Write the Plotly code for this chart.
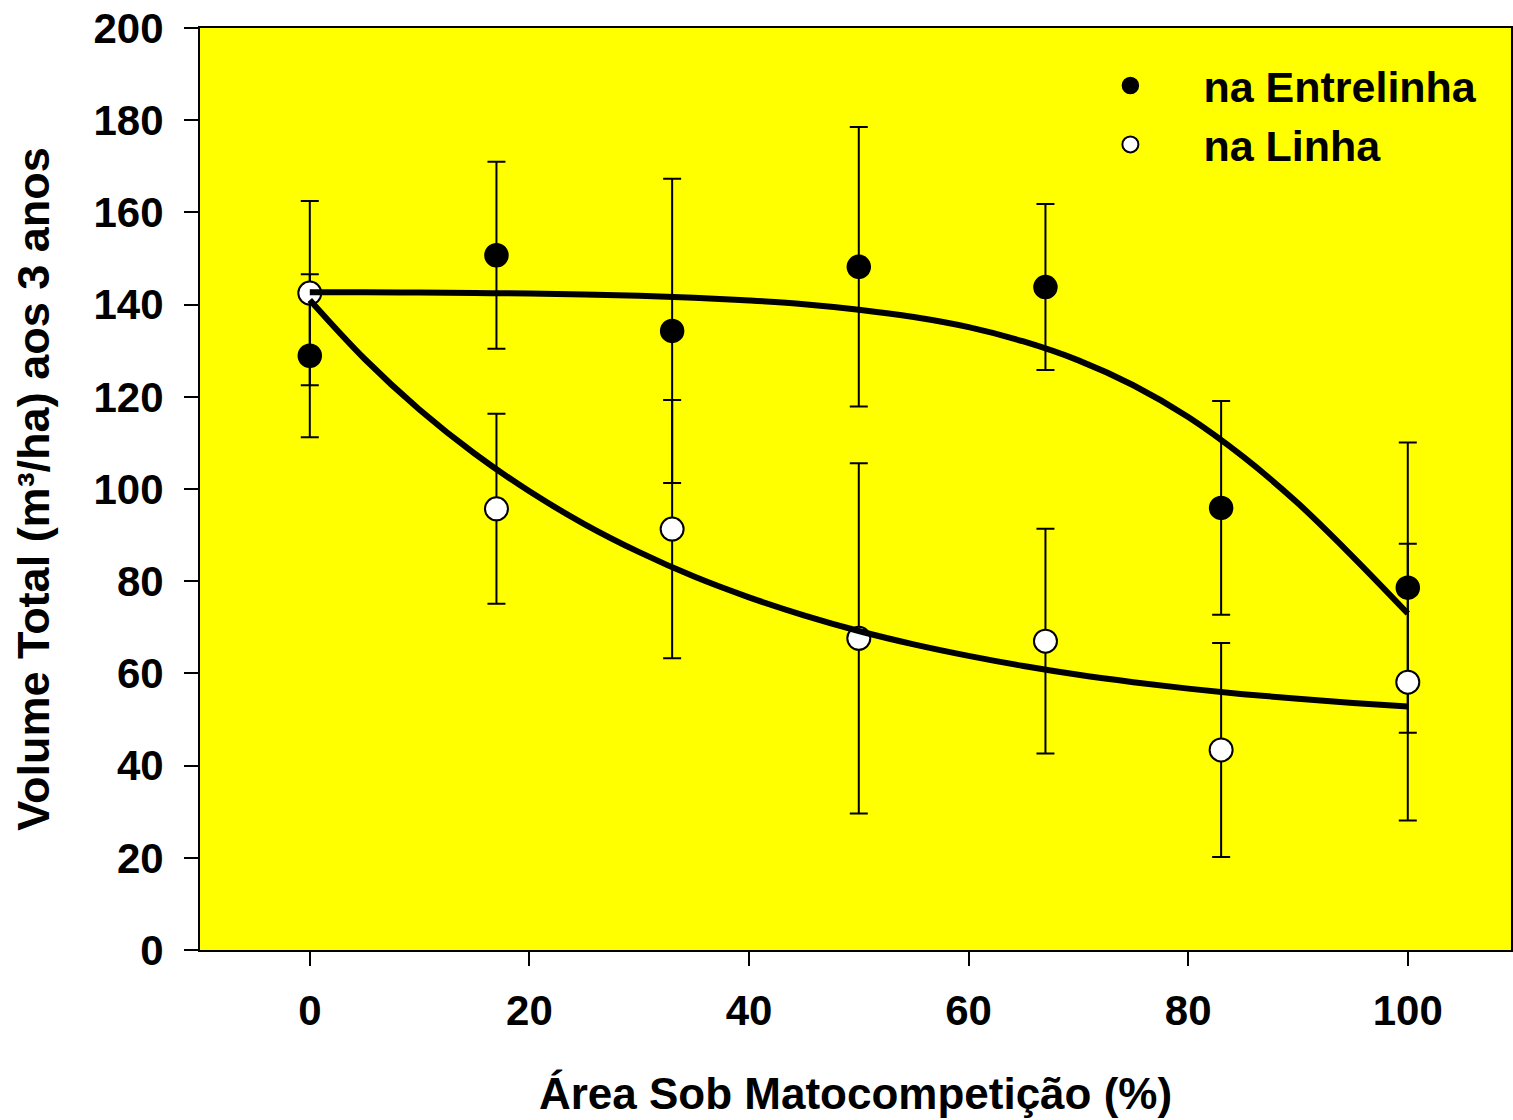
import plotly.graph_objects as go

# Data
area = [0, 17, 33, 50, 67, 83, 100]
entrelinha_vol = [128.9, 150.7, 134.3, 148.2, 143.8, 95.9, 78.6]
entrelinha_err = [17.7, 20.3, 33.0, 30.3, 18.0, 23.2, 31.5]
linha_vol = [142.5, 95.7, 91.3, 67.6, 67.0, 43.4, 58.1]
linha_err = [20.0, 20.6, 28.0, 38.0, 24.4, 23.2, 30.0]

# Fitted curves
curve_x = [0, 5, 10, 15, 20, 25, 30, 35, 40, 45, 50, 55, 60, 65, 70, 75, 80, 85, 90, 95, 100]
entrelinha_fit = [142.7, 142.7, 142.6, 142.5, 142.4, 142.2, 141.9, 141.5, 140.9, 140.1, 138.9,
                  137.3, 135.1, 132.0, 127.9, 122.5, 115.6, 107.0, 96.9, 85.3, 73.0]
linha_fit = [141.0, 128.2, 117.2, 107.7, 99.5, 92.4, 86.3, 81.0, 76.5, 72.6, 69.2,
             66.3, 63.8, 61.6, 59.7, 58.1, 56.7, 55.5, 54.5, 53.6, 52.8]

x_ticks = [0, 20, 40, 60, 80, 100]
y_ticks = [0, 20, 40, 60, 80, 100, 120, 140, 160, 180, 200]

FONT = "Liberation Sans, Arial, sans-serif"

fig = go.Figure()

fig.add_trace(go.Scatter(
    x=area, y=entrelinha_vol, mode="markers", name="na Entrelinha",
    marker=dict(size=23, color="black", line=dict(color="black", width=1.5)),
    error_y=dict(type="data", array=entrelinha_err, color="black", thickness=2, width=9),
))
fig.add_trace(go.Scatter(
    x=area, y=linha_vol, mode="markers", name="na Linha",
    marker=dict(size=23, color="white", line=dict(color="black", width=2)),
    error_y=dict(type="data", array=linha_err, color="black", thickness=2, width=9),
))
fig.add_trace(go.Scatter(
    x=curve_x, y=entrelinha_fit, mode="lines", showlegend=False, hoverinfo="skip",
    line=dict(color="black", width=6, shape="spline"),
))
fig.add_trace(go.Scatter(
    x=curve_x, y=linha_fit, mode="lines", showlegend=False, hoverinfo="skip",
    line=dict(color="black", width=6, shape="spline"),
))

fig.update_layout(
    width=1513, height=1120,
    margin=dict(l=200, r=0, t=28, b=170),
    paper_bgcolor="white",
    plot_bgcolor="#FFFF00",
    font=dict(family=FONT, color="black", size=42, weight="bold"),
    legend=dict(
        x=0.654, y=0.975, xanchor="left", yanchor="top",
        bgcolor="rgba(0,0,0,0)", borderwidth=0,
        font=dict(family=FONT, size=43, color="black", weight="bold"),
        itemwidth=136, tracegroupgap=0,
    ),
)

fig.update_xaxes(
    range=[-10, 109.4], tickvals=x_ticks, ticktext=[str(v) for v in x_ticks],
    showgrid=False, zeroline=False,
    showline=True, linecolor="black", linewidth=2, mirror=True,
    ticks="outside", ticklen=14, tickwidth=2, tickcolor="black",
    tickfont=dict(family=FONT, size=42, color="black", weight="bold"),
    ticklabelstandoff=9,
    title=dict(text="Área Sob Matocompetição (%)",
               font=dict(family=FONT, size=44, color="black", weight="bold"),
               standoff=45),
)
fig.update_yaxes(
    range=[0, 200], tickvals=y_ticks, ticktext=[str(v) for v in y_ticks],
    showgrid=False, zeroline=False,
    showline=True, linecolor="black", linewidth=2, mirror=True,
    ticks="outside", ticklen=14, tickwidth=2, tickcolor="black",
    tickfont=dict(family=FONT, size=42, color="black", weight="bold"),
    ticklabelstandoff=12,
    title=dict(text="Volume Total (m³/ha) aos 3 anos",
               font=dict(family=FONT, size=45, color="black", weight="bold"),
               standoff=30),
)

fig.write_html("out.html", config={"displayModeBar": False},
               post_script="document.body.style.margin='0';")
